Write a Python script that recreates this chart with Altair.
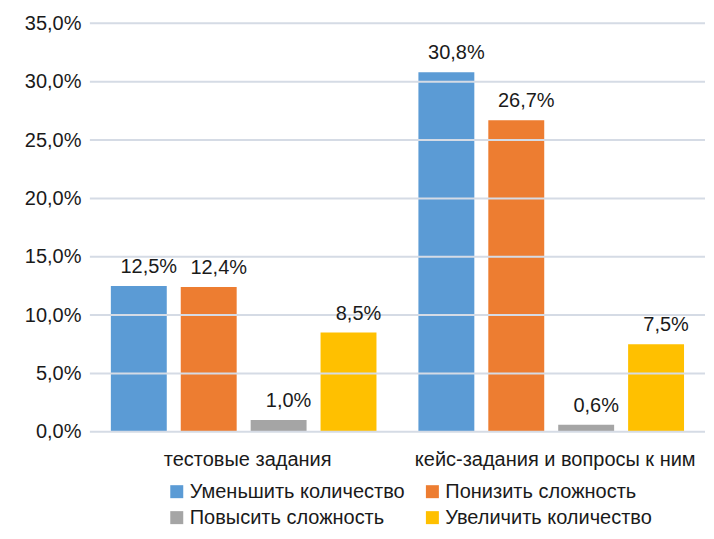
import altair as alt
import pandas as pd

categories = ["тестовые задания", "кейс-задания и вопросы к ним"]
series = ["Уменьшить количество", "Понизить сложность", "Повысить сложность", "Увеличить количество"]
colors = ["#5B9BD5", "#ED7D31", "#A5A5A5", "#FFC000"]

decrease_count = [12.5, 30.8]
lower_difficulty = [12.4, 26.7]
raise_difficulty = [1.0, 0.6]
increase_count = [8.5, 7.5]

y_ticks = [0, 5, 10, 15, 20, 25, 30, 35]

rows = []
for s, vals in zip(series, [decrease_count, lower_difficulty, raise_difficulty, increase_count]):
    for c, v in zip(categories, vals):
        rows.append({"category": c, "series": s, "value": v,
                     "label": f"{v:.1f}".replace(".", ",") + "%"})
df = pd.DataFrame(rows)
grid_df = pd.DataFrame({"value": y_ticks})

FONT = "Liberation Sans"

x = alt.X("category:N", sort=categories,
          scale=alt.Scale(paddingInner=0, paddingOuter=0),
          axis=alt.Axis(title=None, domain=False, ticks=False, labelPadding=18,
                        labelFontSize=20, labelFont=FONT, labelColor="#1a1a1a",
                        labelAngle=0, labelOffset=4, labelLimit=0))
xo = alt.XOffset("series:N", sort=series,
                 scale=alt.Scale(paddingInner=0.2, paddingOuter=0.3))
y = alt.Y("value:Q", scale=alt.Scale(domain=[0, 35], nice=False),
          axis=alt.Axis(title=None, values=y_ticks, domain=False, ticks=False,
                        labelExpr="replace(format(datum.value, '.1f'), '.', ',') + '%'",
                        labelPadding=9, labelFontSize=20, labelFont=FONT,
                        labelColor="#1a1a1a", grid=False))

bars = alt.Chart(df).mark_bar().encode(
    x=x, xOffset=xo, y=y,
    color=alt.Color("series:N", sort=series,
                    scale=alt.Scale(domain=series, range=colors),
                    legend=alt.Legend(title=None, orient="none", legendX=77, legendY=459,
                                      direction="horizontal",
                                      columns=2, symbolType="square", symbolSize=169,
                                      symbolStrokeWidth=0, labelFontSize=20, labelFont=FONT,
                                      labelColor="#1a1a1a", labelOffset=3, labelLimit=0,
                                      columnPadding=17, rowPadding=6, padding=0)),
)

grid = alt.Chart(grid_df).mark_rule(color="#D5DBE5", strokeWidth=2).encode(
    y=alt.Y("value:Q")
)

labels = alt.Chart(df).mark_text(fontSize=20, font=FONT, color="#1a1a1a", dx=10, dy=-13,
                                 baseline="alphabetic").encode(
    x=x, xOffset=xo, y=y, text="label:N"
)

chart = alt.layer(bars, grid, labels).properties(
    width=616, height=409,
    padding={"left": 16, "top": 5, "right": 0, "bottom": 0},
    background="white",
).configure_view(stroke=None)

chart.save("out.html", embed_options={"renderer": "svg", "actions": False})
